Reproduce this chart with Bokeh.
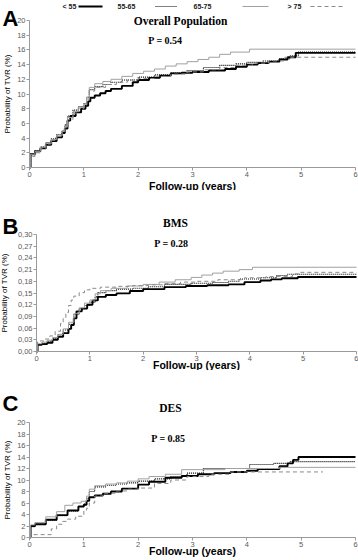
import math
from bokeh.plotting import figure
from bokeh.models import Range1d, FixedTicker, Label
from bokeh.layouts import column
from bokeh.embed import file_html
from bokeh.resources import INLINE

# ---------------- data ----------------
groups = ["< 55", "55-65", "65-75", "> 75"]
x_ticks = [0, 1, 2, 3, 4, 5, 6]

# Panel A: Overall Population
a_t_55 = [0, 0.02, 0.1, 0.2, 0.3, 0.4, 0.5, 0.6, 0.65, 0.7, 0.75, 0.85, 0.95, 1.03, 1.08, 1.12, 1.2, 1.3, 1.4, 1.5, 1.7, 1.9, 2.0, 2.2, 2.4, 2.6, 2.8, 3.0, 3.3, 3.6, 3.8, 4.0, 4.2, 4.4, 4.6, 4.75, 4.9, 6.0]
a_v_55 = [0, 1.8, 2.2, 2.6, 3.1, 3.6, 4.1, 4.7, 5.3, 6.4, 7.0, 7.5, 8.0, 8.4, 9.0, 9.5, 9.8, 10.1, 10.4, 10.7, 11.1, 11.6, 11.9, 12.2, 12.5, 12.8, 12.9, 13.0, 13.2, 13.4, 13.7, 14.0, 14.2, 14.4, 14.7, 15.0, 15.6, 15.6]
a_t_5565 = [0, 0.02, 0.1, 0.2, 0.3, 0.4, 0.5, 0.6, 0.65, 0.7, 0.8, 0.9, 1.0, 1.05, 1.1, 1.2, 1.35, 1.5, 1.7, 2.0, 2.3, 2.6, 2.9, 3.2, 3.5, 3.8, 4.0, 4.3, 4.6, 4.8, 4.95, 6.0]
a_v_5565 = [0, 1.9, 2.3, 2.8, 3.4, 3.9, 4.5, 5.0, 5.8, 7.0, 7.8, 8.3, 8.7, 9.5, 10.6, 11.0, 11.3, 11.6, 11.9, 12.3, 12.6, 12.9, 13.2, 13.6, 13.9, 14.1, 14.3, 14.5, 14.8, 15.2, 15.7, 15.7]
a_t_6575 = [0, 0.02, 0.1, 0.2, 0.3, 0.4, 0.5, 0.6, 0.65, 0.7, 0.8, 0.9, 1.0, 1.05, 1.1, 1.2, 1.35, 1.5, 1.7, 1.9, 2.1, 2.3, 2.5, 2.7, 2.9, 3.1, 3.3, 3.5, 3.7, 4.05, 6.0]
a_v_6575 = [0, 1.8, 2.2, 2.8, 3.3, 3.8, 4.4, 5.0, 5.6, 6.8, 7.6, 8.2, 8.6, 9.6, 10.9, 11.4, 11.7, 12.0, 12.4, 12.8, 13.1, 13.4, 13.8, 14.1, 14.4, 14.7, 15.0, 15.4, 15.7, 16.1, 16.1]
a_t_75 = [0, 0.02, 0.1, 0.2, 0.3, 0.4, 0.5, 0.6, 0.65, 0.7, 0.8, 0.9, 1.0, 1.05, 1.1, 1.2, 1.4, 1.6, 1.8, 2.0, 2.3, 2.6, 2.9, 3.2, 3.5, 3.8, 4.1, 4.4, 4.7, 6.0]
a_v_75 = [0, 1.5, 2.0, 2.6, 3.2, 3.7, 4.3, 4.9, 5.5, 6.5, 7.4, 8.0, 8.5, 9.3, 10.4, 10.9, 11.3, 11.6, 11.9, 12.1, 12.4, 12.7, 13.0, 13.3, 13.6, 13.9, 14.2, 14.5, 15.0, 15.0]

# Panel B: BMS
b_t_55 = [0, 0.02, 0.1, 0.2, 0.3, 0.4, 0.5, 0.6, 0.65, 0.7, 0.75, 0.85, 0.95, 1.05, 1.15, 1.3, 1.5, 1.75, 2.0, 2.4, 2.8, 3.2, 3.6, 3.9, 4.2, 4.4, 4.6, 4.9, 6.0]
b_v_55 = [0, 0.017, 0.019, 0.022, 0.030, 0.038, 0.047, 0.058, 0.068, 0.085, 0.103, 0.110, 0.120, 0.131, 0.140, 0.145, 0.149, 0.155, 0.160, 0.165, 0.168, 0.170, 0.172, 0.178, 0.182, 0.185, 0.188, 0.191, 0.191]
b_t_5565 = [0, 0.02, 0.1, 0.2, 0.3, 0.4, 0.5, 0.6, 0.7, 0.8, 0.9, 1.0, 1.1, 1.15, 1.3, 1.5, 1.8, 2.1, 2.4, 2.9, 3.3, 3.6, 3.8, 4.2, 4.5, 4.7, 6.0]
b_v_5565 = [0, 0.018, 0.021, 0.026, 0.034, 0.043, 0.055, 0.070, 0.095, 0.110, 0.118, 0.126, 0.140, 0.151, 0.156, 0.160, 0.162, 0.166, 0.172, 0.175, 0.177, 0.180, 0.186, 0.189, 0.195, 0.198, 0.198]
b_t_6575 = [0, 0.02, 0.1, 0.2, 0.3, 0.4, 0.5, 0.6, 0.7, 0.8, 0.9, 1.0, 1.1, 1.2, 1.4, 1.7, 2.0, 2.3, 2.6, 2.9, 3.1, 3.3, 3.5, 3.8, 4.05, 6.0]
b_v_6575 = [0, 0.020, 0.024, 0.029, 0.036, 0.044, 0.058, 0.075, 0.097, 0.112, 0.124, 0.132, 0.148, 0.156, 0.162, 0.168, 0.172, 0.178, 0.184, 0.190, 0.196, 0.201, 0.206, 0.210, 0.216, 0.216]
b_t_75 = [0, 0.02, 0.15, 0.25, 0.35, 0.45, 0.5, 0.55, 0.6, 0.65, 0.7, 0.8, 0.9, 1.0, 1.2, 1.5, 1.8, 2.1, 2.4, 2.7, 3.0, 3.4, 3.9, 4.3, 4.8, 4.95, 6.0]
b_v_75 = [0, 0.027, 0.032, 0.040, 0.052, 0.072, 0.085, 0.100, 0.118, 0.132, 0.142, 0.151, 0.158, 0.162, 0.165, 0.167, 0.169, 0.171, 0.174, 0.178, 0.180, 0.184, 0.189, 0.192, 0.199, 0.203, 0.203]

# Panel C: DES
c_t_55 = [0, 0.02, 0.1, 0.3, 0.5, 0.7, 0.9, 1.0, 1.05, 1.1, 1.2, 1.35, 1.5, 1.7, 2.0, 2.2, 2.5, 2.8, 3.1, 3.4, 3.7, 4.0, 4.2, 4.6, 4.75, 4.85, 4.95, 6.0]
c_v_55 = [0, 2.0, 2.3, 3.1, 3.9, 4.7, 5.4, 5.7, 6.4, 7.0, 7.3, 7.6, 8.0, 8.5, 9.2, 9.7, 10.4, 10.7, 11.0, 11.2, 11.4, 11.6, 11.9, 12.4, 12.9, 13.5, 14.0, 14.0]
c_t_5565 = [0, 0.02, 0.1, 0.3, 0.5, 0.7, 0.9, 1.0, 1.05, 1.1, 1.2, 1.4, 1.6, 1.8, 2.0, 2.3, 2.6, 2.9, 3.2, 3.9, 4.05, 4.5, 4.8, 6.0]
c_v_5565 = [0, 1.9, 2.3, 3.0, 3.8, 4.6, 5.4, 5.8, 6.8, 8.0, 8.8, 9.1, 9.3, 9.5, 9.8, 10.2, 10.6, 11.2, 12.0, 12.0, 12.7, 12.9, 13.2, 13.2]
c_t_6575 = [0, 0.02, 0.1, 0.3, 0.5, 0.65, 0.8, 0.95, 1.05, 1.1, 1.2, 1.4, 1.6, 1.8, 2.0, 2.2, 2.5, 2.8, 3.6, 4.6, 6.0]
c_v_6575 = [0, 2.2, 2.6, 3.6, 4.5, 5.6, 6.0, 6.3, 7.2, 8.4, 9.0, 9.3, 9.5, 9.8, 10.2, 10.6, 11.0, 11.8, 12.0, 12.2, 12.2]
c_t_75 = [0, 0.02, 0.3, 0.4, 0.5, 0.6, 0.7, 0.85, 1.0, 1.05, 1.1, 1.2, 1.35, 1.6, 1.8, 2.0, 2.3, 2.6, 2.9, 3.3, 3.7, 5.4]
c_v_75 = [0, 0.5, 0.5, 1.5, 2.3, 2.8, 3.2, 3.7, 4.6, 5.1, 6.0, 7.2, 7.7, 8.1, 8.4, 8.6, 9.4, 10.0, 10.6, 11.0, 11.4, 11.4]

a_y_ticks = [0, 2, 4, 6, 8, 10, 12, 14, 16, 18, 20]
b_y_ticks = [0.0, 0.03, 0.06, 0.09, 0.12, 0.15, 0.18, 0.21, 0.24, 0.27, 0.30]
b_y_labels = ["0,00", "0,03", "0,06", "0,09", "0,12", "0,15", "0,18", "0,21", "0,24", "0,27", "0,30"]
c_y_ticks = [0, 2, 4, 6, 8, 10, 12, 14, 16, 18, 20]

panel_titles = ["Overall Population", "BMS", "DES"]
p_values = ["P = 0.54", "P = 0.28", "P = 0.85"]
panel_letters = ["A", "B", "C"]
x_label = "Follow-up (years)"
y_label = "Probability of TVR (%)"

# ---------------- styles ----------------
STY = {
    "< 55": dict(line_color="black", line_width=1.9, line_dash="solid"),
    "55-65": dict(line_color="black", line_width=1.1, line_dash="1 1"),
    "65-75": dict(line_color="#a0a0a0", line_width=1.0, line_dash="solid"),
    "> 75": dict(line_color="#8a8a8a", line_width=1.0, line_dash="4 3"),
}
SANS = "Liberation Sans"
SERIF = "Liberation Serif"
W = 358


class Panel:
    """Figure whose frame fills the canvas; axes are pinned at x=0 / y=0."""

    def __init__(self, page_top, height, x0_page, x6_page, y0_page, ytop_page, ytop_val, ticks,
                 labels=None, xlab_standoff=0, ylab_standoff=2):
        self.ppu_x = (x6_page - x0_page) / 6.0
        self.x0 = x0_page
        self.ppu_y = (y0_page - ytop_page) / ytop_val
        self.y0 = y0_page
        p = figure(width=W, height=height, output_backend="svg", toolbar_location=None,
                   x_range=Range1d(self.dx(0), self.dx(W)),
                   y_range=Range1d(self.dy(page_top + height), self.dy(page_top)),
                   min_border_left=0, min_border_right=0, min_border_top=0, min_border_bottom=0)
        p.outline_line_color = None
        p.grid.visible = False
        for ax in (p.xaxis[0], p.yaxis[0]):
            ax.fixed_location = 0
            ax.axis_line_color = "#9a9a9a"
            ax.major_tick_line_color = "#9a9a9a"
            ax.minor_tick_line_color = None
            ax.major_tick_in = 0
            ax.major_tick_out = 3
            ax.major_label_text_font = SANS
            ax.major_label_text_font_size = "7.5px"
            ax.major_label_text_color = "#5a5a5a"
            ax.major_label_standoff = 1
            ax.axis_label_text_font = SANS
            ax.axis_label_text_color = "black"
        p.xaxis.ticker = FixedTicker(ticks=x_ticks)
        p.xaxis.bounds = (0, 6)
        p.xaxis.axis_label = x_label
        p.xaxis.axis_label_text_font_size = "10.5px"
        p.xaxis.axis_label_text_font_style = "bold"
        p.xaxis.axis_label_standoff = xlab_standoff
        p.yaxis.ticker = FixedTicker(ticks=ticks)
        p.yaxis.bounds = (0, ticks[-1])
        p.yaxis.axis_label = y_label
        p.yaxis.axis_label_text_font_size = "8px"
        p.yaxis.axis_label_text_font_style = "normal"
        p.yaxis.axis_label_standoff = ylab_standoff
        if labels:
            p.yaxis.major_label_overrides = {t: l for t, l in zip(ticks, labels)}
        self.p = p

    def dx(self, px):
        return (px - self.x0) / self.ppu_x

    def dy(self, py):
        return (self.y0 - py) / self.ppu_y

    def series(self, data):
        for g, (t, v) in zip(groups, data):
            self.p.step(t, v, mode="after", **STY[g])

    def text(self, px, py, txt, **kw):
        self.p.add_layout(Label(x=self.dx(px), y=self.dy(py), text=txt, **kw))


def decorate(pn, idx, letter_base, title_xy, p_xy):
    pn.text(2, letter_base, panel_letters[idx], text_font=SANS, text_font_size="22px",
            text_font_style="bold", text_baseline="alphabetic", text_align="left", text_color="black")
    pn.text(title_xy[0], title_xy[1], panel_titles[idx], text_font=SERIF,
            text_font_size="11.5px", text_font_style="bold", text_align="center",
            text_baseline="middle", text_color="black")
    pn.text(p_xy[0], p_xy[1], p_values[idx], text_font=SERIF, text_font_size="10px",
            text_font_style="bold", text_align="center", text_baseline="middle", text_color="black")


# ---------------- Panel A ----------------
pa = Panel(page_top=0, height=190, x0_page=29, x6_page=355, y0_page=167, ytop_page=20, ytop_val=20,
           ticks=a_y_ticks, xlab_standoff=0, ylab_standoff=2)
pa.series([(a_t_55, a_v_55), (a_t_5565, a_v_5565), (a_t_6575, a_v_6575), (a_t_75, a_v_75)])
decorate(pa, 0, 18, (180, 20), (165, 40))

# legend row at the top of panel A
leg_text_x = [62, 117, 193, 287]
leg_line_x = [(78, 102), (155, 176), (242, 268), (310, 342)]
leg_y = 6
for g, tx, (x0, x1) in zip(groups, leg_text_x, leg_line_x):
    pa.text(tx, leg_y, g, text_font=SANS, text_font_size="7px", text_font_style="bold",
            text_baseline="middle", text_align="left", text_color="#222222")
    pa.p.segment(x0=[pa.dx(x0)], y0=[pa.dy(leg_y)], x1=[pa.dx(x1)], y1=[pa.dy(leg_y)], **STY[g])

# ---------------- Panel B ----------------
pb = Panel(page_top=190, height=180, x0_page=36, x6_page=356, y0_page=351, ytop_page=234, ytop_val=0.30,
           ticks=b_y_ticks, labels=b_y_labels, xlab_standoff=-5, ylab_standoff=6)
pb.series([(b_t_55, b_v_55), (b_t_5565, b_v_5565), (b_t_6575, b_v_6575), (b_t_75, b_v_75)])
decorate(pb, 1, 226, (175, 222), (171, 243))

# ---------------- Panel C ----------------
pc = Panel(page_top=370, height=190, x0_page=29, x6_page=355, y0_page=537, ytop_page=422, ytop_val=20,
           ticks=c_y_ticks, xlab_standoff=-5, ylab_standoff=2)
pc.series([(c_t_55, c_v_55), (c_t_5565, c_v_5565), (c_t_6575, c_v_6575), (c_t_75, c_v_75)])
decorate(pc, 2, 403, (170, 407), (168, 438))

layout = column(pa.p, pb.p, pc.p, spacing=0)
open("out.html", "w").write(file_html(layout, INLINE))
